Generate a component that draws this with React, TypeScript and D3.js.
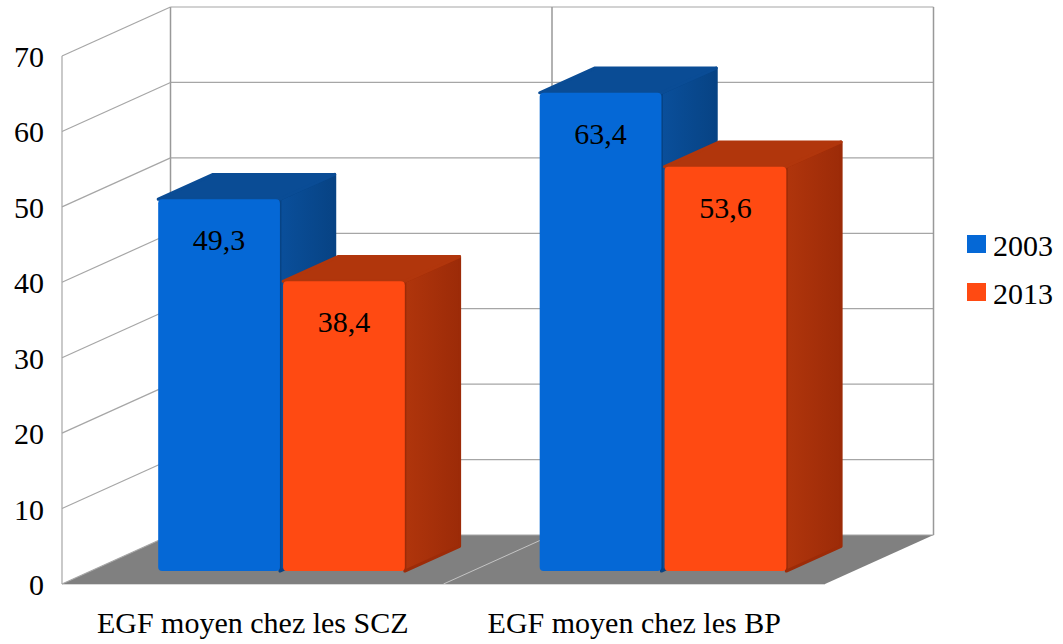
import * as d3 from 'd3';

// chart values
const categories = ['EGF moyen chez les SCZ', 'EGF moyen chez les BP'];
const series = ['2003', '2013'];
const values2003 = [49.3, 63.4];
const values2013 = [38.4, 53.6];
const yTicks = [0, 10, 20, 30, 40, 50, 60, 70];

const W = 1063, H = 644;
const font = '"Liberation Serif", "Times New Roman", serif';

// oblique 3D projection: front floor corner, wall depth offset
const ox = 62, oy = 584;
const floorW = 763;
const depthDx = 108.5, depthDy = -49;
const barD0 = 0.265, barD1 = 0.77;

const colors = {
  '2003': { front: '#0568d6', top: '#0a4c95', side: '#074384', sideLight: '#0a4f9b' },
  '2013': { front: '#ff4a12', top: '#b1360c', side: '#9c2b08', sideLight: '#b0350c' },
} as Record<string, { front: string; top: string; side: string; sideLight: string }>;

const xCat = d3.scaleBand<string>().domain(categories).range([0, floorW]).paddingInner(0).paddingOuter(0);
const xSer = d3.scaleBand<string>().domain(series).range([0, xCat.bandwidth()]).paddingInner(0.025).paddingOuter(0.54);
const yVal = d3.scaleLinear().domain([0, 70]).range([0, 528]);

const P = (x: number, d: number, v: number): [number, number] => [
  ox + x + d * depthDx,
  oy - yVal(v) + d * depthDy,
];
const pts = (a: [number, number][]) => a.map(p => p.join(',')).join(' ');

export default function App() {
  const bars: { cat: string; ser: string; v: number; ci: number }[] = [];
  categories.forEach((c, ci) => {
    bars.push({ cat: c, ser: '2003', v: values2003[ci], ci });
    bars.push({ cat: c, ser: '2013', v: values2013[ci], ci });
  });

  const wallTop = yTicks[yTicks.length - 1];

  return (
    <div style={{ position: 'absolute', left: 0, top: 0, background: '#fff' }}>
      <svg width={W} height={H} viewBox={`0 0 ${W} ${H}`} style={{ display: 'block' }}>
        <defs>
          {series.map(s => (
            <linearGradient key={s} id={`side${s}`} x1="0" x2="1" y1="0" y2="0">
              <stop offset="0" stopColor={colors[s].sideLight} />
              <stop offset="1" stopColor={colors[s].side} />
            </linearGradient>
          ))}
        </defs>

        {/* floor */}
        <polygon
          points={pts([P(0, 0, 0), P(floorW, 0, 0), P(floorW, 1, 0), P(0, 1, 0)])}
          fill="#808080"
        />
        {categories.slice(1).map(c => {
          const a = P(xCat(c)!, 0, 0), b = P(xCat(c)!, 1, 0);
          return <line key={c} x1={a[0]} y1={a[1]} x2={b[0]} y2={b[1]} stroke="#c4c4c4" strokeWidth={1} />;
        })}
        <line x1={P(0, 0, 0)[0]} y1={oy + 0.5} x2={P(floorW, 0, 0)[0]} y2={oy + 0.5} stroke="#d8d8d8" strokeWidth={1} />

        {/* back wall grid */}
        {yTicks.map(t => {
          const a = P(0, 1, t), b = P(floorW, 1, t);
          return <line key={'bw' + t} x1={a[0]} y1={a[1]} x2={b[0]} y2={b[1]} stroke="#a6a6a6" strokeWidth={1.2} />;
        })}
        {[0, xCat(categories[1])!, floorW].map((x, i) => {
          const a = P(x, 1, 0), b = P(x, 1, wallTop);
          return <line key={'bv' + i} x1={a[0]} y1={a[1]} x2={b[0]} y2={b[1]} stroke="#999" strokeWidth={1.5} />;
        })}

        {/* side wall grid */}
        {yTicks.map(t => {
          const a = P(0, 0, t), b = P(0, 1, t);
          return <line key={'sw' + t} x1={a[0]} y1={a[1]} x2={b[0]} y2={b[1]} stroke="#a6a6a6" strokeWidth={1.2} />;
        })}
        <line x1={ox} y1={P(0, 0, 0)[1]} x2={ox} y2={P(0, 0, wallTop)[1]} stroke="#a6a6a6" strokeWidth={1.2} />

        {/* bars, left to right */}
        {bars.map(b => {
          const x0 = xCat(b.cat)! + xSer(b.ser)!;
          const x1 = x0 + xSer.bandwidth();
          const c = colors[b.ser];
          const fTL = P(x0, barD0, b.v), fTR = P(x1, barD0, b.v);
          const fBR = P(x1, barD0, 0);
          const bTL = P(x0, barD1, b.v), bTR = P(x1, barD1, b.v), bBR = P(x1, barD1, 0);
          return (
            <g key={b.cat + b.ser}>
              <polygon points={pts([fTR, bTR, bBR, fBR])} fill={`url(#side${b.ser})`} stroke={c.side} strokeWidth={3} strokeLinejoin="round" />
              <polygon points={pts([fTL, bTL, bTR, fTR])} fill={c.top} stroke={c.top} strokeWidth={3} strokeLinejoin="round" />
              <rect x={fTL[0]} y={fTL[1]} width={fTR[0] - fTL[0]} height={fBR[1] - fTL[1]} rx={4} fill={c.front} />
              <text
                x={(fTL[0] + fTR[0]) / 2}
                y={fTL[1] + 51}
                textAnchor="middle"
                fontFamily={font}
                fontSize={30}
                fill="#000"
              >
                {b.v.toFixed(1).replace('.', ',')}
              </text>
            </g>
          );
        })}

        {/* y axis labels */}
        {yTicks.map(t => (
          <text key={'yl' + t} x={44} y={P(0, 0, t)[1] + 11} textAnchor="end" fontFamily={font} fontSize={30} fill="#000">
            {t}
          </text>
        ))}

        {/* category labels */}
        {categories.map(c => (
          <text key={'xl' + c} x={ox + xCat(c)! + xCat.bandwidth() / 2} y={633} textAnchor="middle" fontFamily={font} fontSize={30} fill="#000">
            {c}
          </text>
        ))}

        {/* legend */}
        {series.map((s, i) => (
          <g key={'lg' + s} transform={`translate(967, ${235 + i * 48})`}>
            <rect x={0} y={0} width={19} height={18} fill={colors[s].front} />
            <text x={26} y={21} fontFamily={font} fontSize={30} fill="#000">{s}</text>
          </g>
        ))}
      </svg>
    </div>
  );
}
